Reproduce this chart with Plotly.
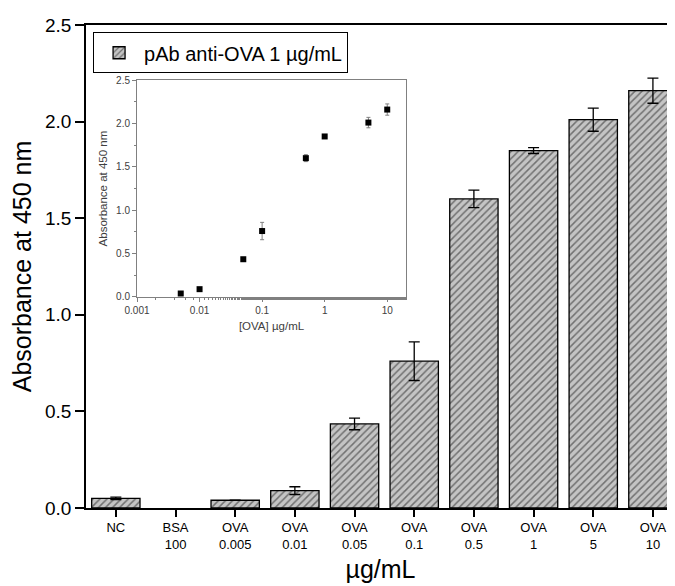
import plotly.graph_objects as go

categories = ["NC", "BSA<br>100", "OVA<br>0.005", "OVA<br>0.01", "OVA<br>0.05",
              "OVA<br>0.1", "OVA<br>0.5", "OVA<br>1", "OVA<br>5", "OVA<br>10"]
absorbance = [0.05, None, 0.04, 0.09, 0.435, 0.76, 1.60, 1.85, 2.01, 2.16]
abs_err = [0.006, 0.0, 0.0, 0.02, 0.03, 0.10, 0.045, 0.015, 0.06, 0.065]

ova_conc = [0.005, 0.01, 0.05, 0.1, 0.5, 1, 5, 10]
ova_abs = [0.04, 0.09, 0.435, 0.76, 1.60, 1.85, 2.01, 2.16]
ova_err = [0.0, 0.0, 0.015, 0.10, 0.04, 0.0, 0.06, 0.065]

FONT = "Arial, Liberation Sans, sans-serif"
XRANGE = [-0.5, 9.37]
boundaries = [i - 0.5 for i in range(len(categories))]

fig = go.Figure()
fig.add_trace(go.Bar(
    x=categories, y=absorbance, name="pAb anti-OVA 1 µg/mL",
    width=0.81,
    marker=dict(color="#c8c8c8", line=dict(color="#000000", width=1.3),
                pattern=dict(shape="/", fgcolor="#1e1e1e", bgcolor="#c4c4c4",
                             size=5, solidity=0.3)),
    error_y=dict(type="data", array=abs_err, color="#000000", thickness=1.3, width=5.5),
    xaxis="x", yaxis="y",
))

fig.add_trace(go.Scatter(
    x=ova_conc, y=ova_abs, mode="markers", showlegend=False,
    marker=dict(symbol="square", size=6, color="#000000"),
    error_y=dict(type="data", array=ova_err, color="#808080", thickness=1, width=2),
    xaxis="x2", yaxis="y2",
))

fig.update_layout(
    width=667, height=578,
    margin=dict(l=78, r=0, t=17, b=78),
    paper_bgcolor="white", plot_bgcolor="white",
    font=dict(family=FONT, color="#000000"),
    showlegend=True,
    legend=dict(x=0.012, y=0.985, xanchor="left", yanchor="top",
                bordercolor="#000000", borderwidth=1, bgcolor="white",
                font=dict(size=20, family=FONT), itemwidth=40,
                tracegroupgap=0),
    xaxis=dict(
        range=XRANGE, showline=True, linecolor="#000000", linewidth=1.5,
        mirror=True, ticks="outside", ticklen=7, tickwidth=1.5, tickcolor="#000000",
        tickfont=dict(size=13), automargin=False,
        title=dict(text="µg/mL", font=dict(size=25), standoff=9),
        showgrid=False, zeroline=False,
    ),
    xaxis3=dict(
        range=XRANGE, overlaying="x", anchor="y", side="bottom", type="linear",
        tickvals=boundaries, ticks="outside", ticklen=3, tickwidth=1.5,
        tickcolor="#000000", showticklabels=False, showline=False,
        showgrid=False, zeroline=False, automargin=False,
    ),
    yaxis=dict(
        range=[0, 2.5], showline=True, linecolor="#000000", linewidth=1.5,
        ticks="outside", ticklen=9, tickwidth=1.5, tickcolor="#000000",
        dtick=0.5, tickformat=".1f", tickfont=dict(size=19), automargin=False,
        title=dict(text="Absorbance at 450 nm", font=dict(size=25), standoff=12),
        showgrid=False, zeroline=False,
    ),
    xaxis2=dict(
        domain=[0.0866, 0.5433], anchor="y2", type="log", range=[-3, 1.3],
        tickvals=[0.001, 0.01, 0.1, 1, 10], ticktext=["0.001", "0.01", "0.1", "1", "10"],
        showline=True, mirror=True, linecolor="#808080", linewidth=1,
        ticks="outside", ticklen=4, tickcolor="#808080", automargin=False,
        minor=dict(ticks="outside", ticklen=2, tickcolor="#808080", showgrid=False),
        tickfont=dict(size=10, color="#404040"),
        title=dict(text="[OVA] µg/mL", font=dict(size=11.5, color="#404040"), standoff=6),
        showgrid=False, zeroline=False,
    ),
    yaxis2=dict(
        domain=[0.4369, 0.886], anchor="x2", range=[0, 2.5],
        dtick=0.5, tickformat=".1f", automargin=False,
        showline=True, mirror=True, linecolor="#808080", linewidth=1,
        ticks="outside", ticklen=4, tickcolor="#808080",
        minor=dict(ticks="outside", ticklen=2, dtick=0.25, tickcolor="#808080", showgrid=False),
        tickfont=dict(size=10, color="#404040"),
        title=dict(text="Absorbance at 450 nm", font=dict(size=11.5, color="#404040"), standoff=6),
        showgrid=False, zeroline=False,
    ),
)

fig.write_html("out.html")
